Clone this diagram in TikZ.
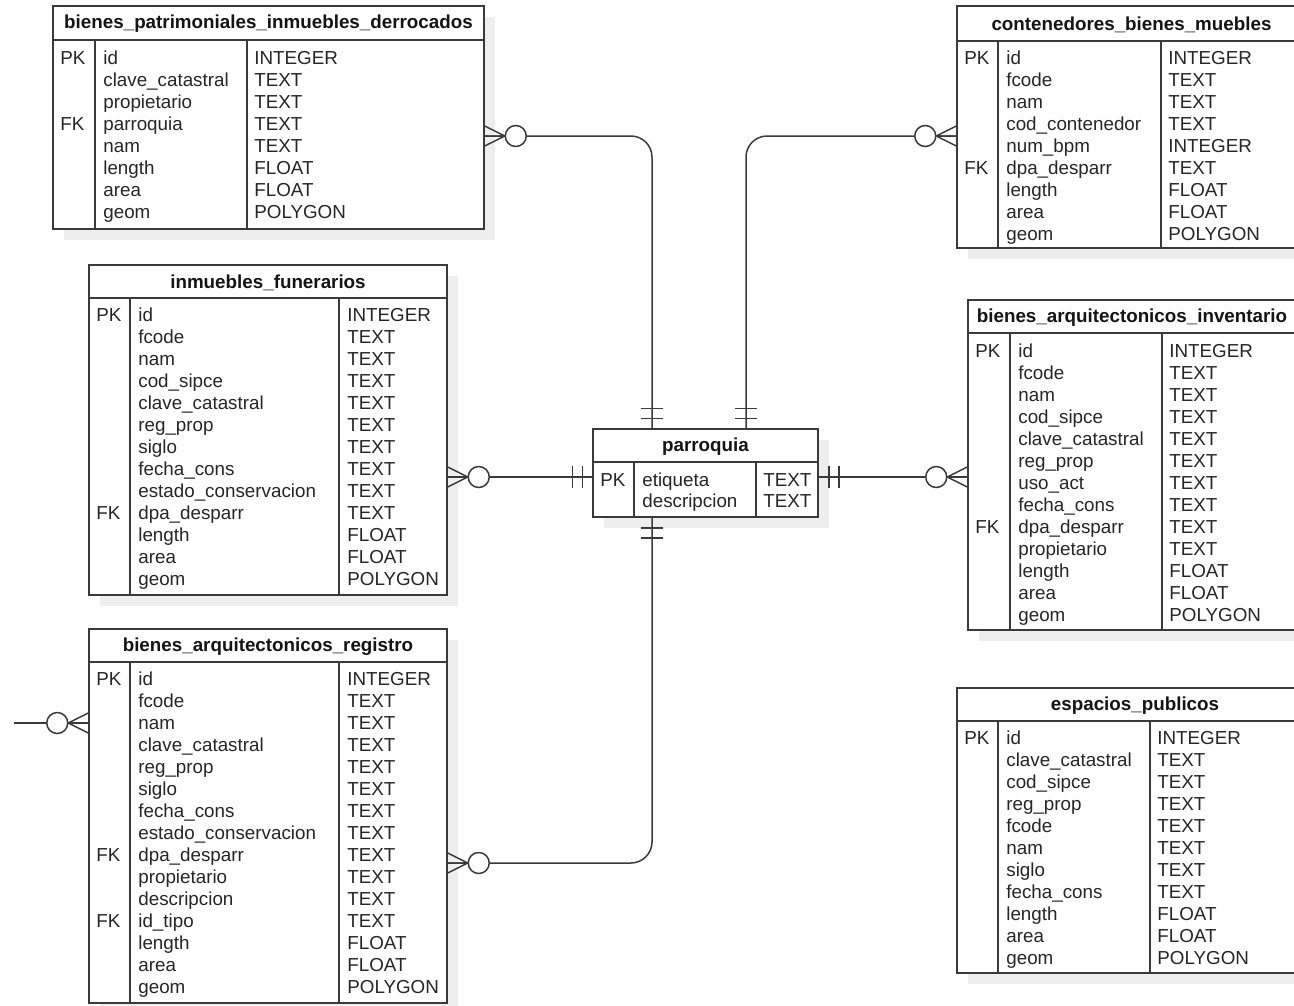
\documentclass[tikz,border=0pt]{standalone}
\usepackage{fontspec}
\setmainfont{Liberation Sans}
\usetikzlibrary{fit}

\definecolor{erline}{HTML}{3A3A3A}
\definecolor{ertext}{HTML}{262626}
\definecolor{ershadow}{HTML}{EEEEEE}

\tikzset{
  erframe/.style={draw=erline, line width=0.85pt, fill=white, inner sep=0pt},
  erstroke/.style={draw=erline, line width=0.85pt},
  ertitle/.style={font=\fontsize{10.7}{12}\selectfont\bfseries, text=black!92, inner sep=0pt},
  ercell/.style={font=\fontsize{10.7}{12}\selectfont, text=ertext, inner sep=0pt, anchor=base west},
  link/.style={draw=erline, line width=0.85pt, rounded corners=12},
}

% table frame: name, title, left, top, right, bottom, key divider x, type divider x, header line y
\newcommand\ertable[9]{%
  \fill[ershadow] (#3+11,#4+11) rectangle (#5+11,#6+11);
  \node[erframe, fit={(#3,#4) (#5,#6)}] (#1) {};
  \draw[erstroke] (#3,#9) -- (#5,#9) (#7,#9) -- (#7,#6) (#8,#9) -- (#8,#6);
  \node[ertitle] (#1-title) at ({(#3+#5)/2},{(#4+#9)/2+1}) {#2};
}

% rows: name, key x, field x, type x, first row centre y, row step, list key/field/type
\newcommand\errows[7]{%
  \foreach \rk/\rf/\rt [count=\ri] in {#7} {
    \node[ercell] (#1-k\ri) at (#2,{#5+(\ri-1)*#6+7}) {\rk};
    \node[ercell] (#1-f\ri) at (#3,{#5+(\ri-1)*#6+7}) {\rf};
    \node[ercell] (#1-t\ri) at (#4,{#5+(\ri-1)*#6+7}) {\rt};
  }
}

% zero-or-many end: at point #1, pointing away from the table at angle #2
\newcommand\manyopt[2]{%
  \begin{scope}[shift={(#1)}, rotate=#2]
    \draw[erstroke] (0,-10) -- (20,0) -- (0,10) (0,0) -- (20,0);
    \draw[erstroke, fill=white] (31,0) circle[radius=10.5];
  \end{scope}}
% exactly-one end
\newcommand\onemand[2]{%
  \begin{scope}[shift={(#1)}, rotate=#2]
    \draw[erstroke] (10,-11) -- (10,11) (20,-11) -- (20,11);
  \end{scope}}

\begin{document}
\begin{tikzpicture}[x=0.02cm, y=-0.02cm]
\useasboundingbox (0,0) rectangle (1294,1005);
\clip (0,0) rectangle (1294,1005);
\fill[white] (0,0) rectangle (1294,1005);

% ---- tables ----
\ertable{derrocados}{bienes\_patrimoniales\_inmuebles\_derrocados}{53}{6}{484}{229}{95}{247}{40}
\errows{derrocados}{60}{103}{254}{57}{22}{PK/id/INTEGER, {}/clave\_catastral/TEXT, {}/propietario/TEXT, FK/parroquia/TEXT, {}/nam/TEXT, {}/length/FLOAT, {}/area/FLOAT, {}/geom/POLYGON}

\ertable{contenedores}{contenedores\_bienes\_muebles}{957}{6}{1306}{248}{998}{1161}{41}
\errows{contenedores}{964}{1006}{1168}{57}{22}{PK/id/INTEGER, {}/fcode/TEXT, {}/nam/TEXT, {}/cod\_contenedor/TEXT, {}/num\_bpm/INTEGER, FK/dpa\_desparr/TEXT, {}/length/FLOAT, {}/area/FLOAT, {}/geom/POLYGON}

\ertable{funerarios}{inmuebles\_funerarios}{89}{265}{447}{595}{130}{339}{298}
\errows{funerarios}{96}{138}{347}{314}{22}{PK/id/INTEGER, {}/fcode/TEXT, {}/nam/TEXT, {}/cod\_sipce/TEXT, {}/clave\_catastral/TEXT, {}/reg\_prop/TEXT, {}/siglo/TEXT, {}/fecha\_cons/TEXT, {}/estado\_conservacion/TEXT, FK/dpa\_desparr/TEXT, {}/length/FLOAT, {}/area/FLOAT, {}/geom/POLYGON}

\ertable{registro}{bienes\_arquitectonicos\_registro}{89}{629}{447}{1003}{130}{339}{662}
\errows{registro}{96}{138}{347}{678}{22}{PK/id/INTEGER, {}/fcode/TEXT, {}/nam/TEXT, {}/clave\_catastral/TEXT, {}/reg\_prop/TEXT, {}/siglo/TEXT, {}/fecha\_cons/TEXT, {}/estado\_conservacion/TEXT, FK/dpa\_desparr/TEXT, {}/propietario/TEXT, {}/descripcion/TEXT, FK/id\_tipo/TEXT, {}/length/FLOAT, {}/area/FLOAT, {}/geom/POLYGON}

\ertable{parroquia}{parroquia}{593}{429}{818}{517}{634}{756}{462}
\errows{parroquia}{600}{642}{763}{479}{21}{PK/etiqueta/TEXT, {}/descripcion/TEXT}

\ertable{inventario}{bienes\_arquitectonicos\_inventario}{968}{300}{1296}{630}{1010}{1162}{333}
\errows{inventario}{975}{1018}{1169}{350}{22}{PK/id/INTEGER, {}/fcode/TEXT, {}/nam/TEXT, {}/cod\_sipce/TEXT, {}/clave\_catastral/TEXT, {}/reg\_prop/TEXT, {}/uso\_act/TEXT, {}/fecha\_cons/TEXT, FK/dpa\_desparr/TEXT, {}/propietario/TEXT, {}/length/FLOAT, {}/area/FLOAT, {}/geom/POLYGON}

\ertable{espacios}{espacios\_publicos}{957}{688}{1313}{973}{998}{1150}{721}
\errows{espacios}{964}{1006}{1157}{737}{22}{PK/id/INTEGER, {}/clave\_catastral/TEXT, {}/cod\_sipce/TEXT, {}/reg\_prop/TEXT, {}/fcode/TEXT, {}/nam/TEXT, {}/siglo/TEXT, {}/fecha\_cons/TEXT, {}/length/FLOAT, {}/area/FLOAT, {}/geom/POLYGON}

% ---- relationship end points ----
\coordinate (c1s) at (derrocados.east |- 0,136);
\coordinate (c1e) at (652,0 |- parroquia.north);
\coordinate (c2s) at (contenedores.west |- 0,136);
\coordinate (c2e) at (746,0 |- parroquia.north);
\coordinate (c3s) at (funerarios.east |- 0,477);
\coordinate (c3e) at (parroquia.west |- 0,477);
\coordinate (c4s) at (parroquia.east |- 0,477);
\coordinate (c4e) at (inventario.west |- 0,477);
\coordinate (c5s) at (652,0 |- parroquia.south);
\coordinate (c5e) at (registro.east |- 0,863);
\coordinate (c6free) at (14,723);
\coordinate (c6e) at (registro.west |- 0,723);

% ---- relationships ----
\draw[link] (c1s) -| (c1e);
\draw[link] (c2s) -| (c2e);
\draw[link] (c3s) -- (c3e);
\draw[link] (c4s) -- (c4e);
\draw[link] (c5s) |- (c5e);
\draw[link] (c6free) -- (c6e);

\manyopt{c1s}{0}
\onemand{c1e}{90}
\manyopt{c2s}{180}
\onemand{c2e}{90}
\manyopt{c3s}{0}
\onemand{c3e}{180}
\onemand{c4s}{0}
\manyopt{c4e}{180}
\onemand{c5s}{-90}
\manyopt{c5e}{0}
\manyopt{c6e}{180}
\end{tikzpicture}
\end{document}
